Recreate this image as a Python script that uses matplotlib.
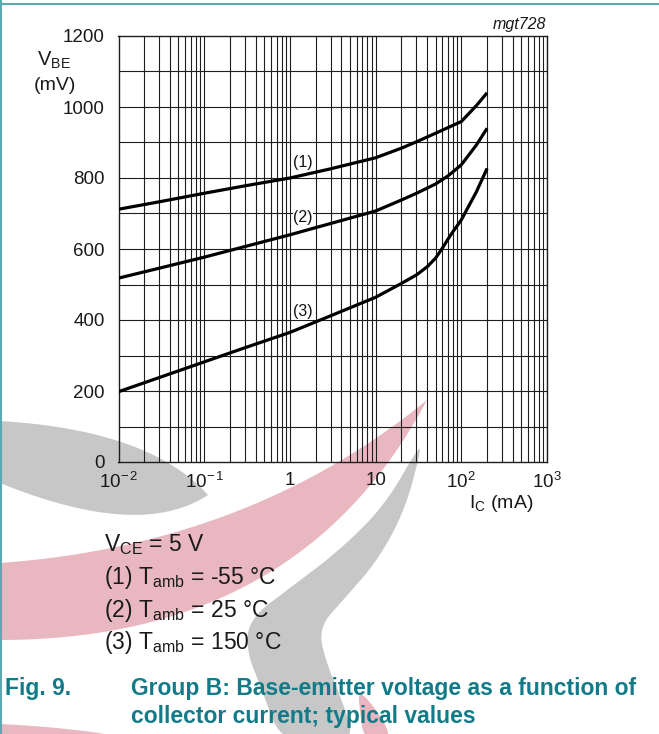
import matplotlib
matplotlib.use("Agg")
import matplotlib.pyplot as plt
import numpy as np
from matplotlib.patches import Polygon
from matplotlib.lines import Line2D

plt.rcParams['font.family'] = ['Liberation Sans', 'DejaVu Sans']
plt.rcParams['mathtext.fontset'] = 'custom'
plt.rcParams['mathtext.rm'] = 'Liberation Sans'
plt.rcParams['mathtext.it'] = 'Liberation Sans:italic'

# collector current (mA) and base-emitter voltage (mV)
ic_1 = [0.01, 0.03, 0.1, 0.3, 1, 3, 10, 20, 30, 50, 70, 100, 150, 200]
vbe_1 = [712, 733, 757, 778, 800, 826, 857, 884, 902, 926, 942, 959, 1004, 1040]

ic_2 = [0.01, 0.03, 0.1, 0.3, 1, 3, 10, 20, 30, 50, 70, 100, 150, 200]
vbe_2 = [518, 546, 577, 607, 640, 672, 707, 738, 757, 783, 806, 837, 893, 940]

ic_3 = [0.01, 0.03, 0.1, 0.3, 1, 3, 10, 20, 30, 40, 50, 60, 70, 80, 100, 150, 200]
vbe_3 = [198, 238, 282, 322, 365, 412, 464, 503, 527, 550, 574, 602, 628, 649, 682, 761, 827]

curve_labels = ['(1)', '(2)', '(3)']
label_pos = [(1.42, 845), (1.42, 690), (1.42, 423)]

x_ticks = [1e-2, 1e-1, 1, 10, 1e2, 1e3]
x_ticklabels = [r'$\mathregular{10^{-\,2}}$', r'$\mathregular{10^{-\,1}}$', '1', '10',
                r'$\mathregular{10^{2}}$', r'$\mathregular{10^{3}}$']
y_ticks = [0, 200, 400, 600, 800, 1000, 1200]

W, H = 659, 734
fig = plt.figure(figsize=(W / 100, H / 100), dpi=100)
fig.patch.set_facecolor('white')


def px(x, y):
    return (x / W, 1 - y / H)


def bez(p0, p1, p2, n=40):
    t = np.linspace(0, 1, n)[:, None]
    p0, p1, p2 = map(np.array, (p0, p1, p2))
    return (1 - t) ** 2 * p0 + 2 * (1 - t) * t * p1 + t ** 2 * p2


def chaikin(pts, n=3):
    # corner cutting so the watermark outline looks smooth
    pts = np.asarray(pts, float)
    for _ in range(n):
        a = pts
        b = np.roll(pts, -1, axis=0)
        pts = np.empty((2 * len(a), 2))
        pts[0::2] = 0.75 * a + 0.25 * b
        pts[1::2] = 0.25 * a + 0.75 * b
    return pts


def shape(pts, color):
    pts = np.array([px(x, y) for x, y in pts])
    fig.patches.append(Polygon(pts, closed=True, transform=fig.transFigure,
                               facecolor=color, edgecolor='none', zorder=-5))


def crescent(edge_a, edge_b, color):
    shape(np.vstack([bez(*edge_a), bez(*edge_b)[::-1]]), color)


# watermark shapes behind the chart
red = '#e9b7c0'
grey = '#c7c7c7'
crescent(((0, 421), (150, 430), (208, 495)), ((0, 483), (140, 540), (208, 495)), grey)
crescent(((0, 563), (250, 545), (427, 400)), ((0, 640), (300, 640), (427, 400)), red)
shape(chaikin([(418, 448), (385, 505), (340, 550), (290, 588), (250, 618), (246, 650),
               (262, 690), (282, 745), (356, 745), (342, 700), (327, 665), (318, 628),
               (345, 598), (378, 560), (405, 510), (421, 450)]), grey)
crescent(((0, 724), (60, 727), (105, 734)), ((0, 734), (60, 734), (105, 734)), red)
shape(chaikin([(358, 690), (374, 706), (394, 740), (364, 740), (360, 712)]), red)

# frame lines of the page
fig.add_artist(Line2D([0, 1], [px(0, 4)[1]] * 2, transform=fig.transFigure,
                      color='#5ea8b2', lw=1.5))
fig.add_artist(Line2D([px(1, 0)[0]] * 2, [0, 1], transform=fig.transFigure,
                      color='#5ea8b2', lw=1.5))

ax = fig.add_axes([118.5 / W, 1 - 462 / H, (547 - 118.5) / W, (462 - 36) / H])
ax.set_zorder(2)
ax.patch.set_alpha(0)
ax.set_xscale('log')
ax.set_xlim(1e-2, 1e3)
ax.set_ylim(0, 1200)

gc = '#1e1e1e'
minor = [m * 10.0 ** e for e in range(-2, 3) for m in range(2, 10)]
for v in minor + x_ticks:
    ax.axvline(v, color=gc, lw=0.8, zorder=1)
for v in range(100, 1200, 100):
    ax.axhline(v, color=gc, lw=0.8, zorder=1)
for s in ax.spines.values():
    s.set_color(gc)
    s.set_linewidth(1.0)

for ic, vbe in [(ic_1, vbe_1), (ic_2, vbe_2), (ic_3, vbe_3)]:
    ax.plot(ic, vbe, color='black', lw=2.3, zorder=3, solid_capstyle='butt')

for lab, (lx, ly) in zip(curve_labels, label_pos):
    ax.text(lx, ly, lab, fontsize=11.5, ha='center', va='center', color='#111111', zorder=4,
            bbox=dict(facecolor='white', edgecolor='none', pad=0.5))

ax.set_xticks(x_ticks)
ax.set_xticklabels(x_ticklabels)
ax.set_xticks([], minor=True)
ax.set_yticks(y_ticks)
ax.tick_params(axis='both', length=0, labelsize=13.5, colors='#1a1a1a')
ax.tick_params(axis='x', pad=7)
ax.tick_params(axis='y', pad=10)

fig.text(*px(54, 60), r'V$_{\mathregular{BE}}$', fontsize=14.5, ha='center', va='center', color='#1a1a1a')
fig.text(*px(55, 86), '(mV)', fontsize=14, ha='center', va='center', color='#1a1a1a')
fig.text(*px(501, 504), r'I$_{\mathregular{C}}$ (mA)', fontsize=14, ha='center', va='center', color='#1a1a1a')
fig.text(*px(546, 24), 'mgt728', fontsize=11.5, style='italic', ha='right', va='center', color='#1a1a1a')

notes = [r'V$_{\mathregular{CE}}$ = 5 V',
         r'(1) T$_{\mathregular{amb}}$ = -55 °C',
         r'(2) T$_{\mathregular{amb}}$ = 25 °C',
         r'(3) T$_{\mathregular{amb}}$ = 150 °C']
for i, t in enumerate(notes):
    fig.text(*px(104, 545 + i * 32.5), t, fontsize=16.5, ha='left', va='center', color='#1a1a1a')

teal = '#137b88'
cap_font = ['Liberation Sans Narrow', 'Liberation Sans']
fig.text(*px(5, 688), 'Fig. 9.', fontsize=16.5, weight='bold', color=teal, ha='left', va='center')
fig.text(*px(131, 688), 'Group B: Base-emitter voltage as a function of', fontsize=16.5, weight='bold',
         color=teal, ha='left', va='center', family=cap_font)
fig.text(*px(131, 716), 'collector current; typical values', fontsize=16.5, weight='bold',
         color=teal, ha='left', va='center', family=cap_font)

fig.savefig('out.png', dpi=100)
